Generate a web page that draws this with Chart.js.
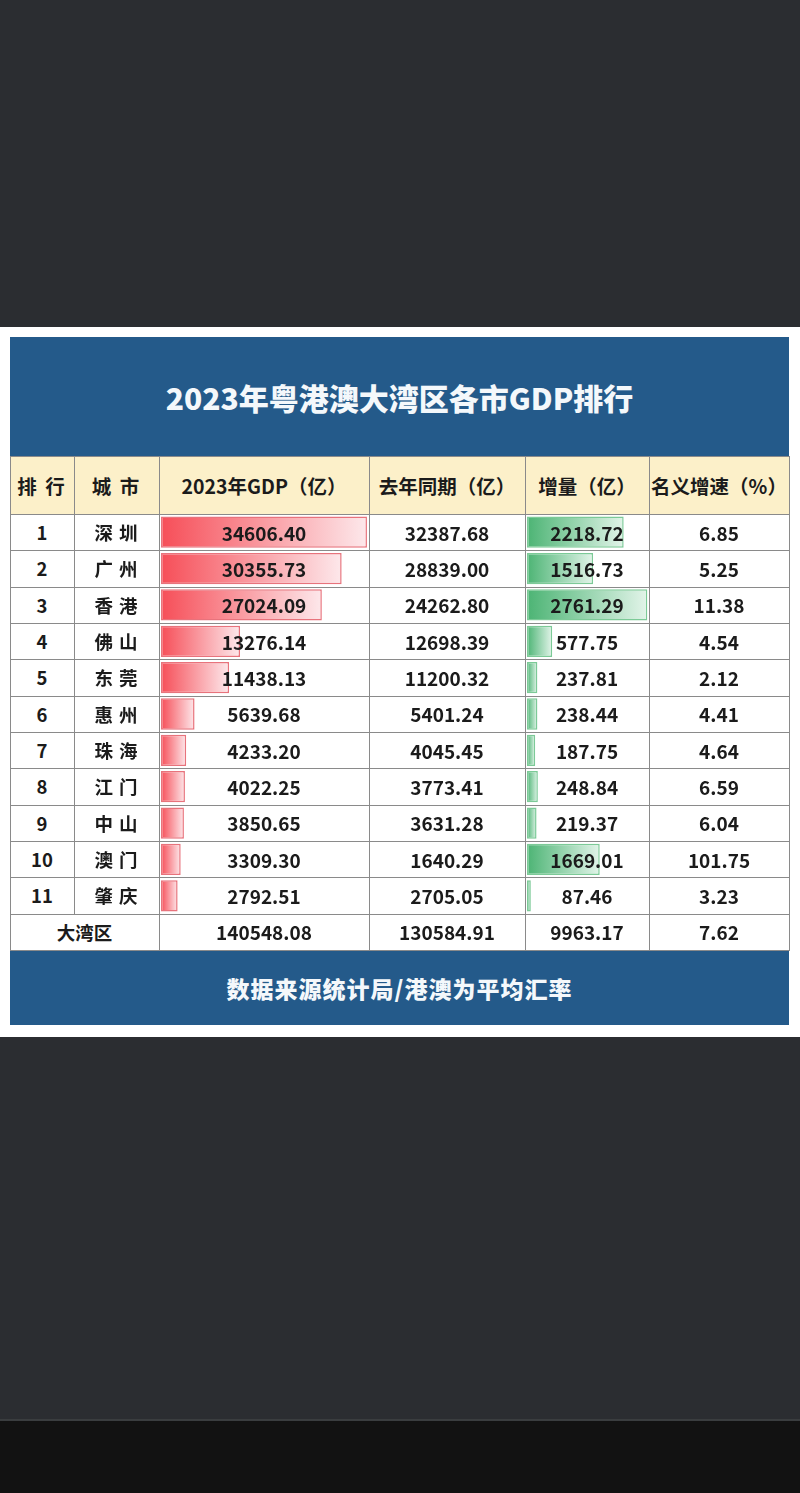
<!DOCTYPE html>
<html><head><meta charset="utf-8">
<script src="https://cdn.jsdelivr.net/npm/chart.js@4"></script>
<style>
html,body{margin:0;padding:0;}
body{width:800px;height:1493px;background:#2b2d31;position:relative;overflow:hidden;font-family:"Noto Sans CJK SC","Noto Sans",sans-serif;}
.abs{position:absolute;}
.cell{position:absolute;display:flex;align-items:center;justify-content:center;color:#1b1b1b;font-weight:700;white-space:nowrap;}
.hl{position:absolute;height:1px;background:#8a8a8a;}
.vl{position:absolute;width:1px;background:#8a8a8a;}
canvas{position:absolute;}
</style></head>
<body>
<div class="abs" style="left:0;top:1421px;width:800px;height:72px;background:#121212"></div>
<div class="abs" style="left:0;top:1419px;width:800px;height:2px;background:#3a3d3f"></div>
<div class="abs" style="left:0;top:327px;width:800px;height:710px;background:#ffffff"></div>
<div class="abs" style="left:10px;top:337px;width:779px;height:119px;background:#245a8a"></div>
<div class="cell" style="left:10px;top:337px;width:779px;height:119px;color:#f4f8fb;font-size:30px;font-weight:900;">2023年粤港澳大湾区各市GDP排行</div>
<div class="abs" style="left:10px;top:456px;width:779px;height:58px;background:#fcf0c9"></div>
<div class="abs" style="left:10px;top:514px;width:779px;height:436px;background:#ffffff"></div>
<div class="abs" style="left:10px;top:950px;width:779px;height:75px;background:#245a8a"></div>
<div class="cell" style="left:10px;top:950px;width:779px;height:75px;color:#f4f8fb;font-size:23px;letter-spacing:1px;font-weight:900;">数据来源统计局/港澳为平均汇率</div>
<canvas id="gdpChart" width="210" height="400" style="left:159px;top:514px;"></canvas>
<canvas id="incChart" width="125" height="400" style="left:524px;top:514px;"></canvas>
<div id="layer"></div>
<script>
// ---- data ----
const headers = ['排 行','城 市','2023年GDP（亿）','去年同期（亿）','增量（亿）','名义增速（%）'];
const ranks = [1,2,3,4,5,6,7,8,9,10,11];
const cities = ['深圳','广州','香港','佛山','东莞','惠州','珠海','江门','中山','澳门','肇庆'];
const gdp2023 = [34606.40,30355.73,27024.09,13276.14,11438.13,5639.68,4233.20,4022.25,3850.65,3309.30,2792.51];
const gdp2022 = [32387.68,28839.00,24262.80,12698.39,11200.32,5401.24,4045.45,3773.41,3631.28,1640.29,2705.05];
const increment = [2218.72,1516.73,2761.29,577.75,237.81,238.44,187.75,248.84,219.37,1669.01,87.46];
const growth = [6.85,5.25,11.38,4.54,2.12,4.41,4.64,6.59,6.04,101.75,3.23];
const totalLabel = '大湾区';
const totals = [140548.08,130584.91,9963.17,7.62];

// ---- layout ----
const colX = [10,74,159,369,525,649,789];
const headTop = 456, rowTop = 514, rowH = 36.33;
const layer = document.getElementById('layer');
function cell(x0,x1,y,h,text,size,extra){
  const d=document.createElement('div');d.className='cell';
  d.style.left=x0+'px';d.style.width=(x1-x0)+'px';d.style.top=y+'px';d.style.height=h+'px';
  d.style.fontSize=size+'px';if(extra)Object.assign(d.style,extra);
  d.textContent=text;layer.appendChild(d);
}
function hl(x0,x1,y){const d=document.createElement('div');d.className='hl';d.style.left=x0+'px';d.style.width=(x1-x0+1)+'px';d.style.top=Math.round(y)+'px';layer.appendChild(d);}
function vl(x,y0,y1){const d=document.createElement('div');d.className='vl';d.style.left=x+'px';d.style.top=Math.round(y0)+'px';d.style.height=Math.round(y1-y0)+'px';layer.appendChild(d);}

headers.forEach((h,i)=>cell(colX[i],colX[i+1],headTop,58,h,19.5,i<2?{letterSpacing:'2px'}:null));
const n = cities.length;
for(let i=0;i<n;i++){
  const y=rowTop+i*rowH;
  const cs = cities[i].split('').join(' ');
  cell(colX[0],colX[1],y,rowH,String(ranks[i]),18.5);
  cell(colX[1],colX[2],y,rowH,cs,18.5,{letterSpacing:'1px'});
  cell(colX[2],colX[3],y,rowH,gdp2023[i].toFixed(2),19);
  cell(colX[3],colX[4],y,rowH,gdp2022[i].toFixed(2),19);
  cell(colX[4],colX[5],y,rowH,increment[i].toFixed(2),19);
  cell(colX[5],colX[6],y,rowH,growth[i].toFixed(2),19);
}
const ty=rowTop+n*rowH;
cell(colX[0],colX[2],ty,rowH,totalLabel,18.5);
cell(colX[2],colX[3],ty,rowH,totals[0].toFixed(2),19);
cell(colX[3],colX[4],ty,rowH,totals[1].toFixed(2),19);
cell(colX[4],colX[5],ty,rowH,totals[2].toFixed(2),19);
cell(colX[5],colX[6],ty,rowH,totals[3].toFixed(2),19);

// grid lines
hl(10,789,headTop);
for(let i=0;i<=n+1;i++){hl(10,789,rowTop+i*rowH);}
colX.forEach((x,i)=>{
  if(i===1) vl(x,headTop,rowTop+n*rowH);
  else vl(x,headTop,rowTop+(n+1)*rowH);
});

// ---- charts ----
function gradientBar(c0,c1){
  return (ctx)=>{
    const chart=ctx.chart;
    if(ctx.type!=='data'||!chart.scales||!chart.scales.x) return c0;
    const xs=chart.scales.x;
    const x0=xs.getPixelForValue(0), x1=xs.getPixelForValue(ctx.raw);
    if(!isFinite(x0)||!isFinite(x1)) return c0;
    const g=chart.ctx.createLinearGradient(x0,0,Math.max(x1,x0+1),0);
    g.addColorStop(0,c0);g.addColorStop(1,c1);
    return g;
  };
}
function barChart(id,values,max,padLeft,c0,c1,border){
  const ch = new Chart(document.getElementById(id),{
    type:'bar',
    data:{labels:cities,datasets:[{data:values,backgroundColor:gradientBar(c0,c1),borderColor:border,borderWidth:1.5,borderSkipped:false,categoryPercentage:1,barPercentage:0.86}]},
    options:{indexAxis:'y',responsive:false,animation:false,devicePixelRatio:1,
      layout:{padding:{left:padLeft,right:0,top:0,bottom:0}},
      plugins:{legend:{display:false},tooltip:{enabled:false}},
      scales:{x:{display:false,min:0,max:max},y:{display:false}}}
  });
  ch.update('none');
  return ch;
}
barChart('gdpChart',gdp2023,34950,2,'rgba(246,78,88,1)','rgba(253,232,235,1)','rgba(230,100,110,0.9)');
barChart('incChart',increment,2800,3,'rgba(76,180,116,1)','rgba(226,244,233,1)','rgba(110,196,140,0.9)');
</script>
</body></html>
